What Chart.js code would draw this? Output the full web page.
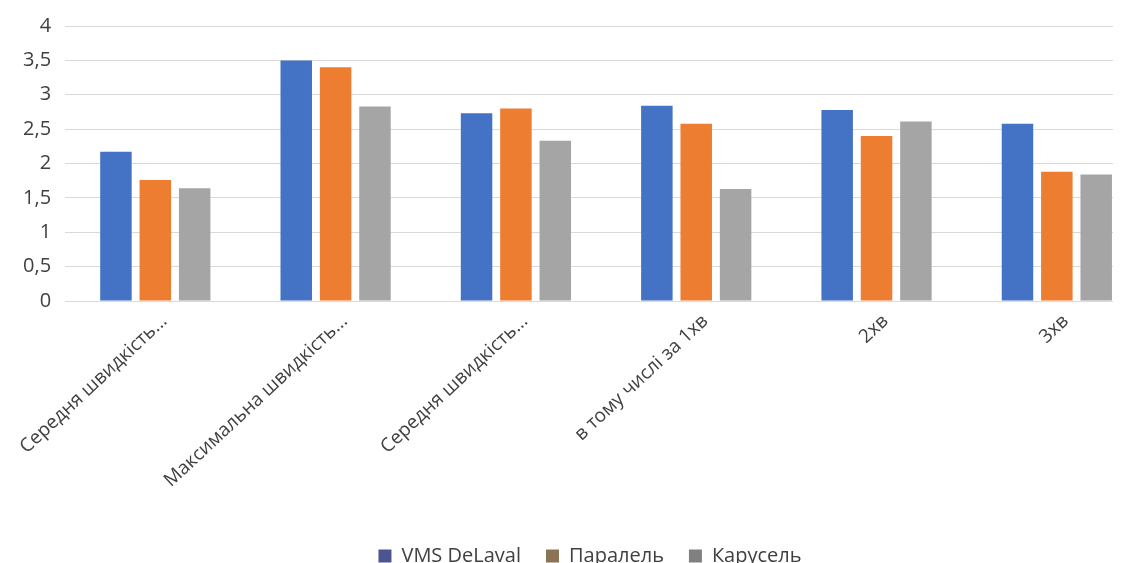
<!DOCTYPE html>
<html>
<head>
<meta charset="utf-8">
<script src="https://cdn.jsdelivr.net/npm/chart.js@4.4.1/dist/chart.umd.min.js"></script>
<style>
  html, body { margin: 0; padding: 0; background: #ffffff; }
  #wrap { width: 1113px; height: 563px; overflow: hidden; position: relative; }
  #box { width: 1180px; height: 576px; }
</style>
</head>
<body>
<div id="wrap"><div id="box"><canvas id="c"></canvas></div></div>
<script>
const categories = [
  "Середня швидкість...",
  "Максимальна швидкість...",
  "Середня швидкість...",
  "в тому числі за 1хв",
  "2хв",
  "3хв"
];
const seriesNames = ["VMS DeLaval", "Паралель", "Карусель"];
const vmsDeLaval = [2.17, 3.50, 2.73, 2.84, 2.78, 2.58];
const paralel    = [1.76, 3.40, 2.80, 2.58, 2.40, 1.88];
const karusel    = [1.64, 2.83, 2.33, 1.63, 2.61, 1.84];
const barColors    = ["#4472C4", "#ED7D31", "#A5A5A5"];
const legendColors = ["#4A5591", "#8A7453", "#808080"];
const yTicks = [0, 0.5, 1, 1.5, 2, 2.5, 3, 3.5, 4];

const FONT = "'Open Sans', 'Noto Sans', sans-serif";

const ds = [vmsDeLaval, paralel, karusel].map((d, i) => ({
  label: seriesNames[i],
  data: d,
  backgroundColor: barColors[i],
  borderWidth: 0,
  categoryPercentage: 0.655,
  barPercentage: 0.8
}));

new Chart(document.getElementById('c'), {
  type: 'bar',
  data: { labels: categories, datasets: ds },
  options: {
    responsive: true,
    maintainAspectRatio: false,
    animation: false,
    layout: { padding: { top: 8, left: 0, right: 0, bottom: 0 } },
    plugins: {
      tooltip: { enabled: false },
      legend: {
        position: 'bottom',
        labels: {
          font: { family: FONT, size: 20 },
          color: '#404040',
          boxWidth: 13,
          boxHeight: 13,
          padding: 25,
          generateLabels: (chart) => chart.data.datasets.map((d, i) => ({
            text: d.label,
            fillStyle: legendColors[i],
            strokeStyle: legendColors[i],
            lineWidth: 0,
            fontColor: '#404040',
            hidden: false,
            datasetIndex: i
          }))
        }
      }
    },
    scales: {
      x: {
        grid: { display: false, drawTicks: false },
        border: { display: true, color: '#D9D9D9', width: 1 },
        ticks: {
          font: { family: FONT, size: 19 },
          color: '#404040',
          minRotation: 43,
          maxRotation: 43,
          autoSkip: false,
          padding: 9,
          labelOffset: 9
        },
        afterFit: (s) => { s.height = 220; }
      },
      y: {
        min: 0,
        max: 4,
        afterBuildTicks: (s) => { s.ticks = yTicks.map(v => ({ value: v })); },
        grid: { color: '#D9D9D9', lineWidth: 1, drawTicks: false },
        border: { display: false },
        ticks: {
          font: { family: FONT, size: 20 },
          color: '#404040',
          padding: 14,
          callback: (v) => String(v).replace('.', ',')
        },
        afterFit: (s) => { s.width = 62; }
      },
      y2: {
        position: 'right',
        display: true,
        grid: { display: false, drawTicks: false },
        border: { display: false },
        ticks: { display: false },
        afterFit: (s) => { s.width = 33; }
      }
    }
  }
});
</script>
</body>
</html>
